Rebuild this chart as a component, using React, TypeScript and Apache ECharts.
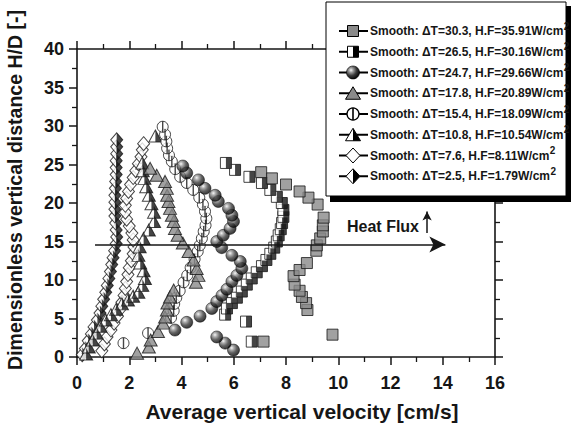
import React, { useEffect, useRef } from 'react';
import * as echarts from 'echarts';

const FONT = '"Liberation Sans", Arial, Helvetica, sans-serif';
const INK = '#161616';
const GRAY = '#8a8a8a';

// ---- data (x = average vertical velocity [cm/s], y = H/D) ----
const sq303: number[][] = [
  [7.14, 2.0], [9.78, 2.9], [8.82, 6.1], [8.77, 7.0], [8.61, 7.8], [8.52, 8.6], [8.33, 9.4], [8.29, 10.5],
  [8.52, 11.3], [8.8, 12.2], [9.16, 13.8], [9.18, 14.5], [9.31, 15.4], [9.41, 16.3], [9.41, 17.1], [9.44, 18.1],
  [9.21, 19.8], [8.86, 20.7], [8.52, 21.5], [8.0, 22.4], [7.46, 23.2], [7.05, 24.0],
];
const hsq265: number[][] = [
  [6.69, 2.0], [6.47, 4.6], [5.67, 5.5], [5.74, 6.3], [5.93, 7.0], [6.12, 7.7], [6.31, 8.5], [6.5, 9.4],
  [6.69, 10.2], [6.88, 11.0], [7.08, 11.8], [7.25, 12.6], [7.4, 13.4], [7.55, 14.2], [7.65, 15.0], [7.72, 15.8],
  [7.8, 16.6], [7.85, 17.4], [7.9, 18.2], [7.9, 19.1], [7.84, 20.0], [7.65, 20.8], [7.4, 21.7], [7.08, 22.6],
  [6.6, 23.4], [6.05, 24.3], [5.7, 25.2],
];
const sph247: number[][] = [
  [5.99, 0.9], [5.67, 1.8], [5.35, 2.6], [3.75, 3.5], [4.2, 4.5], [4.71, 5.3], [5.16, 6.3], [5.35, 7.2],
  [5.55, 8.0], [5.74, 8.8], [5.93, 9.8], [6.12, 10.6], [6.31, 11.5], [6.25, 12.4], [5.93, 13.2], [5.54, 14.2],
  [5.35, 15.0], [5.6, 15.8], [5.86, 16.7], [5.99, 17.6], [5.93, 18.4], [5.8, 19.3], [5.41, 20.2], [5.29, 21.0],
  [4.9, 21.9], [4.65, 23.0], [4.2, 23.9], [4.05, 24.8],
];
const tri178: number[][] = [
  [2.3, 0.5], [2.75, 1.3], [2.82, 2.2], [3.1, 3.3], [3.3, 4.4], [3.37, 5.2], [3.44, 6.1], [3.46, 7.0],
  [3.56, 7.8], [3.7, 8.7], [4.55, 9.7], [4.65, 10.6], [4.58, 11.5], [4.46, 12.6], [4.27, 13.7], [4.05, 14.8],
  [3.85, 15.8], [3.75, 16.7], [3.7, 17.6], [3.63, 18.4], [3.56, 19.3], [3.5, 20.2], [3.45, 21.0], [3.44, 21.9],
  [3.37, 22.8], [3.05, 23.6], [2.8, 24.5],
];
const hc154: number[][] = [
  [1.78, 1.8], [2.72, 3.1], [3.6, 5.1], [3.7, 6.0], [3.72, 6.9], [3.8, 7.7], [3.93, 8.6], [4.08, 9.7],
  [4.22, 10.6], [4.35, 11.6], [4.5, 12.7], [4.62, 13.7], [4.7, 14.5], [4.78, 15.4], [4.85, 16.3], [4.92, 17.1],
  [4.95, 18.0], [4.9, 18.9], [4.82, 19.8], [4.68, 20.7], [4.45, 21.7], [4.2, 22.6], [3.95, 23.4], [3.76, 24.4],
  [3.63, 25.4], [3.52, 26.2], [3.45, 27.1], [3.42, 28.0], [3.37, 28.9], [3.28, 29.9],
];
const tri108: number[][] = [
  [0.35, 0.4], [0.45, 1.3], [0.6, 2.2], [0.75, 3.1], [0.9, 4.0], [1.1, 4.8], [1.3, 5.5], [1.5, 6.2],
  [1.72, 6.9], [1.95, 7.4], [2.15, 7.9], [2.35, 8.4], [2.5, 9.3], [2.6, 10.2], [2.55, 11.2], [2.42, 12.2],
  [2.35, 13.2], [2.4, 14.3], [2.55, 15.4], [2.75, 16.5], [2.95, 17.6], [2.95, 18.8], [2.85, 19.9], [2.75, 21.0],
  [2.65, 22.1], [2.58, 23.2], [2.52, 24.2], [2.5, 25.2], [3.0, 28.7],
];
const dia76: number[][] = [
  [0.95, 0.8], [1.05, 1.7], [1.15, 2.6], [1.3, 3.5], [1.42, 4.4], [1.55, 5.3], [1.65, 6.2], [1.72, 7.1],
  [1.8, 8.0], [1.85, 8.9], [1.9, 9.8], [1.95, 10.7], [2.0, 11.6], [2.08, 12.5], [2.15, 13.4], [2.18, 14.3],
  [2.15, 15.2], [2.1, 16.1], [2.0, 17.0], [1.9, 17.9], [1.85, 18.8], [1.85, 19.7], [1.9, 20.6], [1.97, 21.5],
  [2.05, 22.4], [2.15, 23.3], [2.25, 24.2], [2.35, 25.1], [2.45, 26.0], [2.5, 26.9], [2.55, 27.7],
];
const hd25: number[][] = [
  [0.2, 0.3], [0.32, 1.1], [0.43, 2.1], [0.55, 3.0], [0.65, 3.9], [0.78, 4.8], [0.88, 5.7], [0.95, 6.6],
  [1.02, 7.5], [1.1, 8.4], [1.16, 9.3], [1.22, 10.2], [1.28, 11.1], [1.33, 12.0], [1.38, 12.9], [1.44, 13.8],
  [1.5, 14.7], [1.52, 15.6], [1.5, 16.5], [1.48, 17.4], [1.45, 18.3], [1.45, 19.2], [1.45, 20.1], [1.45, 21.0],
  [1.47, 21.9], [1.48, 22.8], [1.5, 23.7], [1.5, 24.6], [1.5, 25.5], [1.52, 26.4], [1.52, 27.3], [1.52, 28.2],
];

const deltaT = ['30.3', '26.5', '24.7', '17.8', '15.4', '10.8', '7.6', '2.5'];
const heatFlux = ['35.91', '30.16', '29.66', '20.89', '18.09', '10.54', '8.11', '1.79'];
const xTickLabels = ['0', '2', '4', '6', '8', '10', '12', '14', '16'];

const heatArrow = [[0.69, 14.6], [14.1, 14.6]];
const upArrow = [[13.4, 16.1], [13.4, 18.9]];

const RIGHT_HALF_TRI = 'path://M0,0 L1,2 L0,2 Z';
const RIGHT_HALF_DIA = 'path://M0,0 L1,1 L0,2 Z';

const sphereStops = [
  { offset: 0, color: '#f4f4f4' },
  { offset: 0.25, color: '#9a9a9a' },
  { offset: 0.6, color: '#3a3a3a' },
  { offset: 1, color: '#050505' },
];
const sphereFill = () => ({ type: 'radial', x: 0.35, y: 0.32, r: 0.7, colorStops: sphereStops });

function sc(name: string, data: number[][], symbol: string, size: any, itemStyle: any, offset?: number[]) {
  const s: any = {
    name, type: 'scatter', data, symbol, symbolSize: size, itemStyle,
    silent: true, emphasis: { disabled: true }, xAxisIndex: 0, yAxisIndex: 0,
  };
  if (offset) s.symbolOffset = offset;
  return s;
}

function measure(text: string, font: string): number {
  const c = document.createElement('canvas').getContext('2d');
  if (!c) return text.length * 6.5;
  c.font = font;
  return c.measureText(text).width;
}

export default function App() {
  const ref = useRef<HTMLDivElement>(null);
  useEffect(() => {
    document.body.style.margin = '0';
    const chart = echarts.init(ref.current!, undefined, { renderer: 'svg' });
    const border = { borderColor: INK, borderWidth: 1 };
    const series: any[] = [
      sc('hd25', hd25, 'diamond', [12, 14], { color: '#fff', ...border }),
      sc('hd25b', hd25, RIGHT_HALF_DIA, [6, 14], { color: INK }, [3, 0]),
      sc('dia76', dia76, 'diamond', [12, 14], { color: '#fff', ...border }),
      sc('tri108', tri108, 'triangle', [13, 12], { color: '#fff', ...border }),
      sc('tri108b', tri108, RIGHT_HALF_TRI, [6.5, 12], { color: INK }, [3.25, 0]),
      sc('hc154', hc154, 'circle', 11, { color: '#fff', ...border }),
      sc('hc154b', hc154, 'rect', [1.4, 11], { color: INK }),
      sc('tri178', tri178, 'triangle', [13, 12], { color: GRAY, ...border }),
      sc('sph247', sph247, 'circle', 12, { color: sphereFill(), borderColor: '#000', borderWidth: 0.6 }),
      sc('hsq265', hsq265, 'rect', 11, { color: '#fff', ...border }),
      sc('hsq265b', hsq265, 'rect', [5.5, 11], { color: INK }, [2.75, 0]),
      sc('sq303', sq303, 'rect', 11, { color: GRAY, ...border }),
    ];
    series[series.length - 1].markLine = {
      silent: true,
      symbol: ['none', 'arrow'],
      label: { show: false },
      emphasis: { disabled: true },
      lineStyle: { color: INK, width: 1.5, type: 'solid' },
      data: [
        [{ coord: heatArrow[0], symbol: 'none' }, { coord: heatArrow[1], symbol: 'arrow', symbolSize: [12, 16] }],
        [{ coord: upArrow[0], symbol: 'none' }, { coord: upArrow[1], symbol: 'arrow', symbolSize: [7, 9] }],
      ],
    };

    const axisCommon = (interval: number, showLabel: boolean, pos: string, min: number, max: number) => ({
      type: 'value', min, max, interval, position: pos,
      axisLine: { show: true, onZero: false, lineStyle: { color: INK, width: 1.6 } },
      axisTick: { show: true, inside: false, length: 8, lineStyle: { color: INK, width: 1.5 } },
      minorTick: { show: true, splitNumber: 2, length: 5, lineStyle: { color: INK, width: 1.3 } },
      splitLine: { show: false },
      minorSplitLine: { show: false },
      axisLabel: showLabel
        ? { show: true, fontSize: 18, fontWeight: 'bold', fontFamily: FONT, color: INK }
        : { show: false },
    });

    const xBottom: any = axisCommon(2, true, 'bottom', 0, 16);
    xBottom.axisLabel.margin = 17;
    xBottom.axisLabel.formatter = (v: number) => xTickLabels[Math.round(v / 2)] ?? String(v);
    const yLeft: any = axisCommon(5, true, 'left', 0, 40);
    yLeft.axisLabel.margin = 13;

    // legend drawn with graphic elements
    const LX = 326, LY = 2, LW = 240, LH = 194;
    const legendEls: any[] = [
      { type: 'rect', shape: { x: LX + 4, y: LY + LH, width: LW + 2, height: 6 }, style: { fill: '#000' }, z: 100 },
      { type: 'rect', shape: { x: LX + LW, y: LY + 4, width: 6, height: LH + 2 }, style: { fill: '#000' }, z: 100 },
      { type: 'rect', shape: { x: LX, y: LY, width: LW, height: LH }, style: { fill: '#fff', stroke: '#000', lineWidth: 1 }, z: 100 },
    ];
    const cx = 353;
    const LFS = 12;
    const lfont = `bold ${LFS}px ${FONT}`;
    for (let i = 0; i < 8; i++) {
      const y = 31 + i * 20.75;
      legendEls.push({ type: 'line', shape: { x1: 339, y1: y, x2: 368, y2: y }, style: { stroke: '#000', lineWidth: 2 }, z: 101 });
      const st = { stroke: '#000', lineWidth: 1 };
      let sym: any[] = [];
      if (i === 0) sym = [{ type: 'rect', shape: { x: cx - 5.5, y: y - 5.5, width: 11, height: 11 }, style: { fill: GRAY, ...st } }];
      if (i === 1) sym = [
        { type: 'rect', shape: { x: cx - 5.5, y: y - 5.5, width: 11, height: 11 }, style: { fill: '#fff', ...st } },
        { type: 'rect', shape: { x: cx, y: y - 5.5, width: 5.5, height: 11 }, style: { fill: '#000' } },
      ];
      if (i === 2) sym = [{ type: 'circle', shape: { cx, cy: y, r: 6.5 }, style: { fill: new echarts.graphic.RadialGradient(0.35, 0.32, 0.7, sphereStops), stroke: '#000', lineWidth: 0.6 } }];
      if (i === 3) sym = [{ type: 'polygon', shape: { points: [[cx, y - 6.5], [cx + 7.5, y + 6], [cx - 7.5, y + 6]] }, style: { fill: GRAY, ...st } }];
      if (i === 4) sym = [
        { type: 'circle', shape: { cx, cy: y, r: 6 }, style: { fill: '#fff', stroke: '#000', lineWidth: 1.3 } },
        { type: 'rect', shape: { x: cx - 0.8, y: y - 6, width: 1.6, height: 12 }, style: { fill: '#000' } },
      ];
      if (i === 5) sym = [
        { type: 'polygon', shape: { points: [[cx, y - 6.5], [cx + 7.5, y + 6], [cx - 7.5, y + 6]] }, style: { fill: '#fff', ...st } },
        { type: 'polygon', shape: { points: [[cx, y - 6.5], [cx + 7.5, y + 6], [cx, y + 6]] }, style: { fill: '#000' } },
      ];
      if (i === 6) sym = [{ type: 'polygon', shape: { points: [[cx, y - 7.5], [cx + 7, y], [cx, y + 7.5], [cx - 7, y]] }, style: { fill: '#fff', ...st } }];
      if (i === 7) sym = [
        { type: 'polygon', shape: { points: [[cx, y - 7.5], [cx + 7, y], [cx, y + 7.5], [cx - 7, y]] }, style: { fill: '#fff', ...st } },
        { type: 'polygon', shape: { points: [[cx, y - 7.5], [cx + 7, y], [cx, y + 7.5]] }, style: { fill: '#000' } },
      ];
      sym.forEach((s) => { s.z = 102; legendEls.push(s); });
      const label = `Smooth: ΔT=${deltaT[i]}, H.F=${heatFlux[i]}W/cm`;
      const w = measure(label, lfont);
      legendEls.push({
        type: 'text', z: 103, x: 370, y,
        style: { text: label, font: lfont, fill: INK, align: 'left', verticalAlign: 'middle' },
      });
      legendEls.push({
        type: 'text', z: 103, x: 370 + w + 0.5, y: y - 5,
        style: { text: '2', font: `bold 10px ${FONT}`, fill: INK, align: 'left', verticalAlign: 'middle' },
      });
    }

    chart.setOption({
      animation: false,
      backgroundColor: '#fff',
      grid: { left: 77, right: 76, top: 49, bottom: 75, containLabel: false },
      xAxis: [xBottom, axisCommon(2, false, 'top', 0, 16)],
      yAxis: [yLeft, axisCommon(5, false, 'right', 0, 40)],
      series,
      graphic: [
        {
          type: 'text', x: 302, y: 411, z: 50,
          style: { text: 'Average vertical velocity [cm/s]', fontSize: 21, fontWeight: 'bold', fontFamily: FONT, fill: INK, align: 'center', verticalAlign: 'middle' },
        },
        {
          type: 'text', x: 15, y: 190, rotation: Math.PI / 2, z: 50,
          style: { text: 'Dimensionless vertical distance H/D [-]', fontSize: 19.5, fontWeight: 'bold', fontFamily: FONT, fill: INK, align: 'center', verticalAlign: 'middle' },
        },
        {
          type: 'text', x: 347, y: 226, z: 50,
          style: { text: 'Heat Flux', fontSize: 16, fontWeight: 'bold', fontFamily: FONT, fill: INK, align: 'left', verticalAlign: 'middle' },
        },
        ...legendEls,
      ],
    });
    return () => chart.dispose();
  }, []);
  return <div ref={ref} style={{ position: 'fixed', left: 0, top: 0, width: 571, height: 432 }} />;
}
